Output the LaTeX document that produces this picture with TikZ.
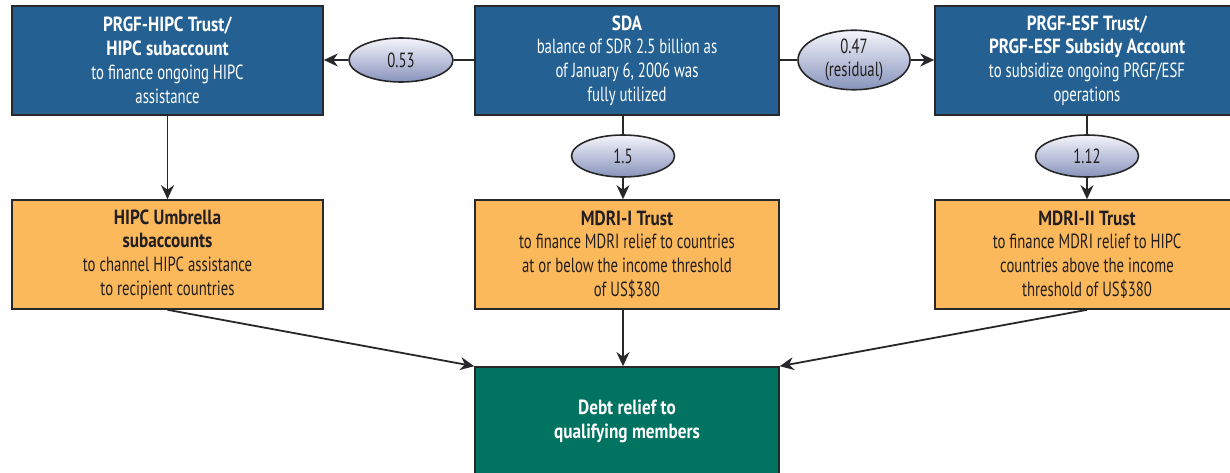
\documentclass[tikz,border=0pt]{standalone}
\usepackage{fontspec}
\setmainfont{PT Sans}[FakeStretch=0.72,BoldFeatures={FakeStretch=0.84}]
\usetikzlibrary{arrows.meta,shapes.geometric}
\definecolor{boxblue}{RGB}{36,96,145}
\definecolor{boxorange}{RGB}{251,185,91}
\definecolor{boxgreen}{RGB}{0,115,97}
\definecolor{edgegray}{RGB}{40,40,43}
\definecolor{txtdark}{RGB}{35,31,32}
\definecolor{elltop}{RGB}{244,245,251}
\definecolor{ellbot}{RGB}{135,147,188}
\tikzset{
  basebox/.style={rectangle, draw=edgegray, line width=1.6pt, inner sep=0pt,
    minimum width=304pt, align=center, font=\fontsize{20.5}{23.8}\selectfont},
  bluebox/.style={basebox, fill=boxblue, text=white, minimum height=109pt},
  orangebox/.style={basebox, fill=boxorange, text=txtdark, minimum height=109pt},
  greenbox/.style={basebox, fill=boxgreen, text=white, minimum height=108pt},
  amount/.style={ellipse, draw=edgegray, line width=1.6pt, inner sep=0pt,
    top color=elltop, bottom color=ellbot, text=txtdark, align=center,
    font=\fontsize{20.5}{23}\selectfont},
  conn/.style={draw=edgegray, line width=1.8pt},
  arr/.style={conn, -{Stealth[length=14pt,width=13pt,inset=4.5pt]}}
}
\begin{document}
\begin{tikzpicture}[x=1pt,y=-1pt]
\useasboundingbox (0,0) rectangle (1230,473);
% top row
\node[bluebox, minimum width=311pt] (hipc) at (167.5,60.5)
  {\textbf{PRGF-HIPC Trust/}\\\textbf{HIPC subaccount}\\to finance ongoing HIPC\\assistance};
\node[bluebox] (sda) at (627,60.5)
  {\textbf{SDA}\\balance of SDR 2.5 billion as\\of January 6, 2006 was\\fully utilized};
\node[bluebox] (esf) at (1087,60.5)
  {\textbf{PRGF-ESF Trust/}\\\textbf{PRGF-ESF Subsidy Account}\\to subsidize ongoing PRGF/ESF\\operations};
% middle row
\node[orangebox, minimum width=311pt] (umb) at (167.5,254.5)
  {\textbf{HIPC Umbrella}\\\textbf{subaccounts}\\to channel HIPC assistance\\to recipient countries};
\node[orangebox] (mdri1) at (627,254.5)
  {\textbf{MDRI-I Trust}\\to finance MDRI relief to countries\\at or below the income threshold\\of US\$380};
\node[orangebox] (mdri2) at (1087,254.5)
  {\textbf{MDRI-II Trust}\\to finance MDRI relief to HIPC\\countries above the income\\threshold of US\$380};
% bottom
\node[greenbox] (debt) at (627,421)
  {\textbf{Debt relief to}\\\textbf{qualifying members}};
% amounts
\node[amount, minimum width=104pt, minimum height=44pt] (a053) at (401,60) {0.53};
\node[amount, minimum width=112pt, minimum height=56pt] (a047) at (854,60) {0.47\\(residual)};
\node[amount, minimum width=103pt, minimum height=42pt] (a15) at (623,156) {1.5};
\node[amount, minimum width=103pt, minimum height=42pt] (a112) at (1087,156) {1.12};
% connectors
\draw[conn] (sda.west |- a053) -- (a053.east);
\draw[arr] (a053.west) -- (hipc.east |- a053);
\draw[conn] (sda.east |- a047) -- (a047.west);
\draw[arr] (a047.east) -- (esf.west |- a047);
\draw[conn] (sda.south -| a15) -- (a15.north);
\draw[arr] (a15.south) -- (mdri1.north -| a15);
\draw[conn] (esf.south) -- (a112.north);
\draw[arr] (a112.south) -- (mdri2.north);
\draw[arr] (hipc.south) -- (umb.north);
\draw[arr] (umb.south) -- (debt.north west);
\draw[arr] (mdri1.south -| a15) -- (debt.north -| a15);
\draw[arr] (mdri2.south) -- (debt.north east);
\end{tikzpicture}
\end{document}
